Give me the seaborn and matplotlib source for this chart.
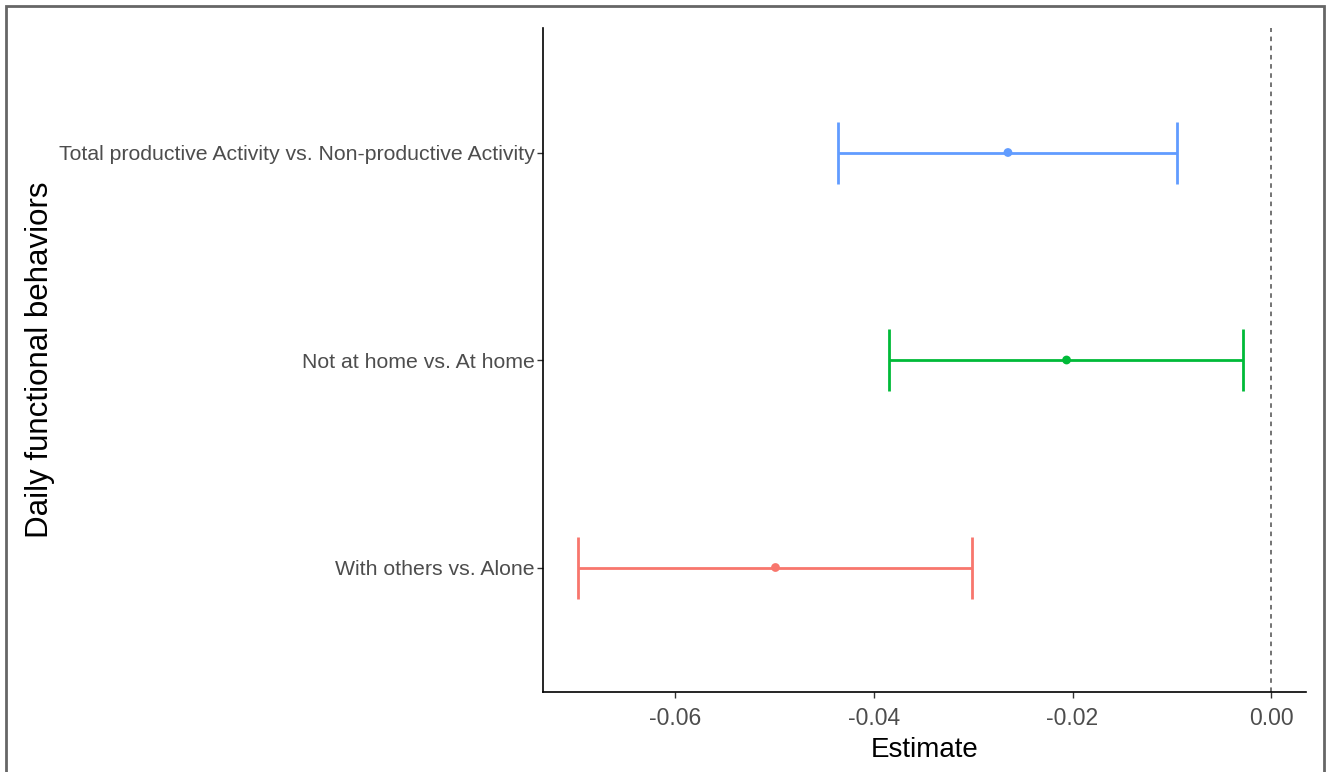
import matplotlib
matplotlib.use("Agg")
import matplotlib.pyplot as plt
import seaborn as sns
import pandas as pd
from matplotlib.patches import Rectangle

# estimates with 95% CI
behaviors = ["With others vs. Alone",
             "Not at home vs. At home",
             "Total productive Activity vs. Non-productive Activity"]
estimate = [-0.0499, -0.0206, -0.0265]
ci_low = [-0.0698, -0.0385, -0.0436]
ci_high = [-0.0301, -0.0028, -0.0095]
colors = ["#F8766D", "#00BA38", "#619CFF"]
xticks = [-0.06, -0.04, -0.02, 0.00]

df = pd.DataFrame({"behavior": behaviors, "estimate": estimate,
                   "low": ci_low, "high": ci_high})

sns.set_style("white")
plt.rcParams['font.family'] = ['Liberation Sans Narrow', 'Liberation Sans', 'DejaVu Sans']

fig = plt.figure(figsize=(13.33, 7.72), dpi=100)
ax = fig.add_axes([543/1333, 1-692/772, (1306-543)/1333, (692-28)/772])

ax.axvline(0, color="#4D4D4D", linestyle=(0, (3, 3)), linewidth=1.1, zorder=1)

for i, row in df.iterrows():
    ax.errorbar(row["estimate"], row["behavior"],
                xerr=[[row["estimate"] - row["low"]], [row["high"] - row["estimate"]]],
                fmt="none", ecolor=colors[i], elinewidth=2, capsize=22, capthick=2,
                zorder=2)

sns.scatterplot(data=df, x="estimate", y="behavior", hue="behavior",
                palette=colors, s=40, edgecolor="none", legend=False, ax=ax, zorder=3)

ax.set_ylim(-0.6, 2.6)
ax.set_xlim(-0.0733, 0.0035)
ax.set_xticks(xticks)
ax.set_xticklabels([f"{t:.2f}" for t in xticks])

for s in ["top", "right"]:
    ax.spines[s].set_visible(False)
for s in ["left", "bottom"]:
    ax.spines[s].set_color("black")
    ax.spines[s].set_linewidth(1.2)

ax.tick_params(axis="both", which="major", length=4, width=1, color="#333333",
               labelcolor="#4D4D4D", labelsize=15.3, direction="out",
               left=True, bottom=True)
ax.tick_params(axis="x", pad=7, labelsize=16.5)
ax.tick_params(axis="y", pad=2)
ax.set_xlabel("Estimate", fontsize=20, color="black", labelpad=5)
ax.set_ylabel("Daily functional behaviors", fontsize=22.5, color="black")
ax.yaxis.set_label_coords(-0.64, 0.5)

# outer frame around the figure
fig.patches.append(Rectangle((6/1333, -0.02), (1324-6)/1333, 1-6/772 + 0.02,
                             transform=fig.transFigure, fill=False,
                             edgecolor="#666666", linewidth=2))

fig.savefig("out.png", dpi=100)
